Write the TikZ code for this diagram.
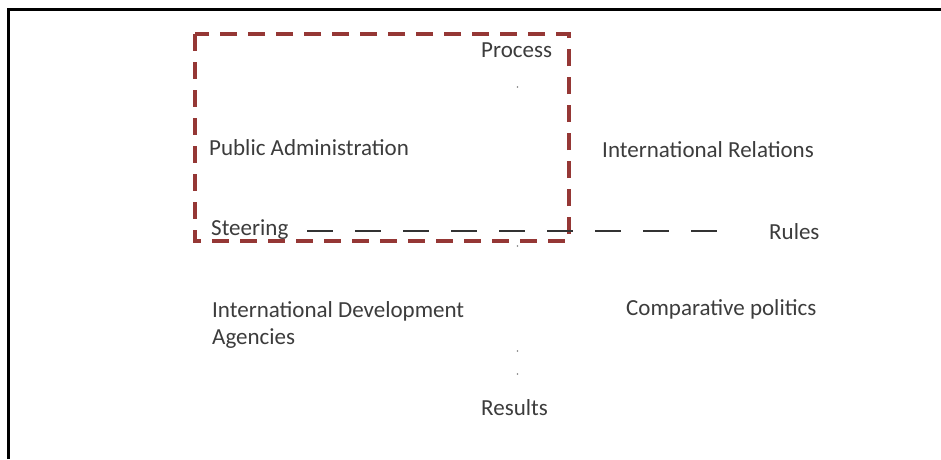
\documentclass[tikz,border=0pt]{standalone}
\usepackage{fontspec}
\setmainfont{Carlito}
\definecolor{boxred}{HTML}{953735}
\definecolor{txtgray}{HTML}{3C3C3C}
\begin{document}
\begin{tikzpicture}[x=1pt,y=-1pt,
  lbl/.style={anchor=base west,inner sep=0pt,text=txtgray,font=\fontsize{23}{27}\selectfont,align=left},
  redbox/.style={draw=boxred,line width=4pt,dash pattern=on 17pt off 11pt},
  blackdash/.style={draw=black!80,line width=1.6pt,dash pattern=on 26pt off 22pt},
  tinydot/.style={circle,fill=black!50,inner sep=0pt,minimum size=1.6pt}]
\useasboundingbox (0,0) rectangle (941,459);
\fill[white] (0,0) rectangle (941,459);
% frame (left and top edges)
\draw[line width=3pt] (8,459) -- (8,9.5) -- (941,9.5);
% red dashed box
\draw[redbox] (195,34) rectangle (569,241);
% labels
\node[lbl] (process) at (481,57) {Process};
\node[lbl] (pubadm) at (209,155) {Public Administration};
\node[lbl] (intrel) at (602,157) {International Relations};
\node[lbl] (steer) at (211,235) {Steering};
\node[lbl] (rules) at (769,239) {Rules};
\node[lbl] (ida) at (212,317) {International Development};
\node[lbl] (agen) at (212,344) {Agencies};
\node[lbl] (comp) at (626,315) {Comparative politics};
\node[lbl] (results) at (481,415) {Results};
% dashed rules line
\coordinate (dl) at (307,231);
\coordinate (dr) at (726,231);
\draw[blackdash] (dl) -- (dr);
% tiny dots
\node[tinydot] (d1) at (517.5,87) {};
\node[tinydot] (d2) at (517.5,246) {};
\node[tinydot] (d3) at (517.5,351) {};
\node[tinydot] (d4) at (517.5,374) {};
\end{tikzpicture}
\end{document}
